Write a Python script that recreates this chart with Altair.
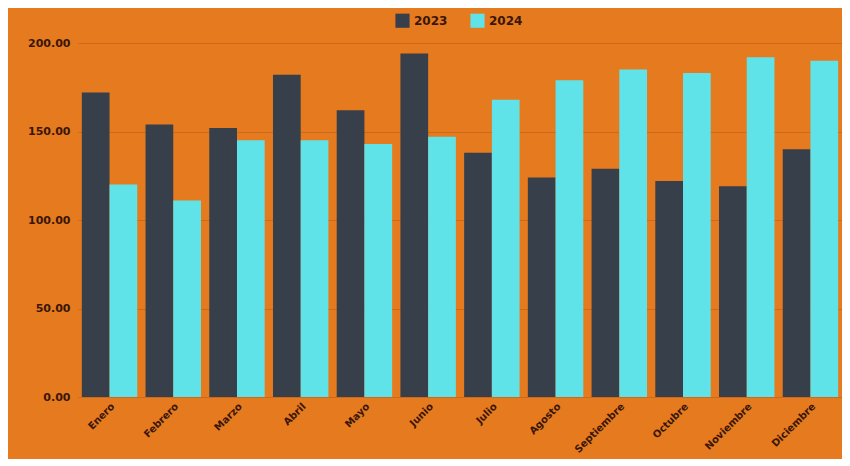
import altair as alt
import pandas as pd

meses = ["Enero", "Febrero", "Marzo", "Abril", "Mayo", "Junio", "Julio",
         "Agosto", "Septiembre", "Octubre", "Noviembre", "Diciembre"]
v2023 = [172, 154, 152, 182, 162, 194, 138, 124, 129, 122, 119, 140]
v2024 = [120, 111, 145, 145, 143, 147, 168, 179, 185, 183, 192, 190]
series = ["2023", "2024"]

rows = []
for i, m in enumerate(meses):
    rows.append({"mes": m, "serie": "2023", "valor": v2023[i]})
    rows.append({"mes": m, "serie": "2024", "valor": v2024[i]})
df = pd.DataFrame(rows)

txt = "#3a1608"
font = "DejaVu Sans"

chart = alt.Chart(df).mark_bar().encode(
    x=alt.X("mes:N", sort=meses, title=None,
            scale=alt.Scale(paddingInner=0.13, paddingOuter=0.06),
            axis=alt.Axis(labelAngle=-45, domain=False, ticks=False,
                          labelColor=txt, labelFont=font, labelFontSize=10,
                          labelFontWeight="bold", labelPadding=4)),
    xOffset=alt.XOffset("serie:N", sort=series),
    y=alt.Y("valor:Q", title=None,
            scale=alt.Scale(domain=[0, 200], nice=False),
            axis=alt.Axis(values=[0, 50, 100, 150, 200], format=".2f",
                          domain=False, ticks=False, labelColor=txt,
                          labelFont=font, labelFontSize=11,
                          labelFontWeight="bold", labelPadding=8,
                          gridColor="#b5561a", gridOpacity=0.5,
                          gridWidth=1)),
    color=alt.Color("serie:N", sort=series,
                    scale=alt.Scale(domain=series, range=["#363f4a", "#5fe3e8"]),
                    legend=alt.Legend(title=None, orient="none", direction="horizontal",
                                      legendX=317, legendY=-30,
                                      symbolType="square", symbolSize=200,
                                      symbolStrokeWidth=0, labelColor=txt,
                                      labelFont=font, labelFontSize=12,
                                      labelFontWeight="bold", columnPadding=22)),
).properties(
    width=764, height=354,
    background="#E67A1F",
    padding={"left": 70, "top": 35, "right": 0, "bottom": 62},
    autosize=alt.AutoSizeParams(type="none"),
).configure_view(stroke=None)

chart.save("out.html", embed_options={"renderer": "svg", "actions": False})
